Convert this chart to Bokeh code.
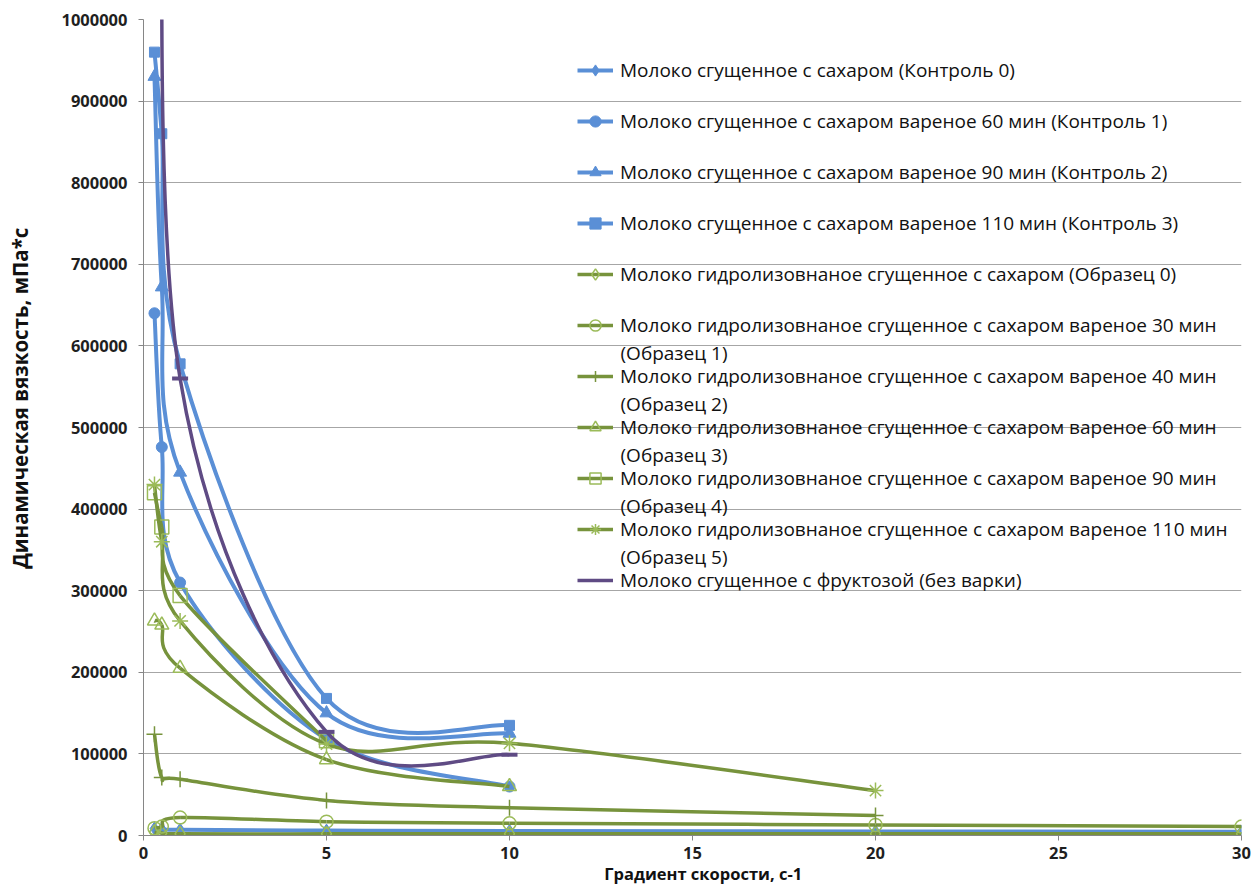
from bokeh.plotting import figure
from bokeh.models import (Legend, LegendItem, Label, FixedTicker, NumeralTickFormatter,
                          Range1d, ColumnDataSource)
from bokeh.embed import file_html
from bokeh.resources import INLINE

# ---------------- data ----------------
x_c0 = [0.3, 0.5, 1, 5, 10, 20, 30]
y_c0 = [8500, 8000, 7000, 6000, 5500, 5000, 4500]
x_c1 = [0.3, 0.5, 1, 5, 10]
y_c1 = [640000, 476000, 310000, 118000, 60000]
x_c2 = [0.3, 0.5, 1, 5, 10]
y_c2 = [930000, 672000, 445000, 150000, 125000]
x_c3 = [0.3, 0.5, 1, 5, 10]
y_c3 = [960000, 860000, 578000, 168000, 135000]
x_s0 = [0.3, 0.5, 1, 5, 10, 20, 30]
y_s0 = [4000, 3000, 2000, 2000, 2000, 2000, 2000]
x_s1 = [0.3, 0.5, 1, 5, 10, 20, 30]
y_s1 = [9000, 11000, 22000, 17000, 15000, 13000, 11000]
x_s2 = [0.3, 0.5, 1, 5, 10, 20]
y_s2 = [124000, 71000, 69000, 43000, 34000, 24500]
x_s3 = [0.3, 0.5, 1, 5, 10]
y_s3 = [263000, 258000, 205000, 93000, 60000]
x_s4 = [0.3, 0.5, 1, 5]
y_s4 = [420000, 378000, 294000, 116000]
x_s5 = [0.3, 0.5, 1, 5, 10, 20]
y_s5 = [430000, 360000, 263000, 112000, 113000, 55000]
x_fr = [0.5, 1, 5, 10]
y_fr = [1350000, 560000, 127000, 99000]

labels = [
    "Молоко сгущенное с сахаром (Контроль 0)",
    "Молоко сгущенное с сахаром вареное 60 мин (Контроль 1)",
    "Молоко сгущенное с сахаром вареное 90 мин (Контроль 2)",
    "Молоко сгущенное с сахаром вареное 110 мин (Контроль 3)",
    "Молоко гидролизовнаное сгущенное с сахаром (Образец 0)",
    "Молоко гидролизовнаное сгущенное с сахаром вареное 30 мин",
    "Молоко гидролизовнаное сгущенное с сахаром вареное 40 мин",
    "Молоко гидролизовнаное сгущенное с сахаром вареное 60 мин",
    "Молоко гидролизовнаное сгущенное с сахаром вареное 90 мин",
    "Молоко гидролизовнаное сгущенное с сахаром вареное 110 мин",
    "Молоко сгущенное с фруктозой (без варки)",
]
second_lines = {5: "(Образец 1)", 6: "(Образец 2)", 7: "(Образец 3)", 8: "(Образец 4)", 9: "(Образец 5)"}
x_title = "Градиент скорости, с-1"
y_title = "Динамическая вязкость, мПа*с"

x_ticks = [0, 5, 10, 15, 20, 25, 30]
y_ticks = [0, 100000, 200000, 300000, 400000, 500000, 600000, 700000, 800000, 900000, 1000000]

# ---------------- styles ----------------
BLUE = "#5A8FD6"
GREEN = "#77933C"
LGREEN = "#9BBB59"
PURPLE = "#5F4B84"
FONT = "Open Sans"
LEG_FS = "19px"
NB = "\u00a0"

W, H = 1253, 890
L, R, T, B = 143, 12, 19, 55
p = figure(width=W, height=H, output_backend="svg", toolbar_location=None,
           x_range=Range1d(0, 30), y_range=Range1d(0, 1000000),
           min_border_left=L, min_border_right=R, min_border_top=T, min_border_bottom=B)
p.outline_line_color = None
p.background_fill_color = "white"
p.xgrid.grid_line_color = None
p.ygrid.grid_line_color = "#A6A6A6"
p.ygrid.grid_line_width = 1

p.xaxis.ticker = FixedTicker(ticks=x_ticks)
p.yaxis.ticker = FixedTicker(ticks=y_ticks)
p.yaxis.formatter = NumeralTickFormatter(format="0")
for ax in (p.xaxis[0], p.yaxis[0]):
    ax.axis_line_color = "#868686"
    ax.major_tick_line_color = "#868686"
    ax.minor_tick_line_color = None
    ax.major_tick_in = 0
    ax.major_tick_out = 5
    ax.major_label_text_font = FONT
    ax.major_label_text_font_style = "bold"
    ax.major_label_text_font_size = "16.5px"
    ax.major_label_text_color = "#1F1F1F"
    ax.axis_label_text_font = FONT
    ax.axis_label_text_font_style = "bold"
    ax.axis_label_text_color = "#111111"
p.xaxis.major_label_standoff = 6
p.yaxis.major_label_standoff = 11
# leading no-break spaces shift the centred titles to the reference positions
p.xaxis.axis_label = NB * 5 + x_title
p.xaxis.axis_label_text_font_size = "16.5px"
p.xaxis.axis_label_standoff = 0
p.yaxis.axis_label = NB * 11 + y_title
p.yaxis.axis_label_text_font_size = "20.5px"
p.yaxis.axis_label_standoff = 24

W_FRAME = W - L - R
H_FRAME = H - T - B


def px_to_x(px):
    return (px - L) / W_FRAME * 30


def py_to_y(py):
    return (T + H_FRAME - py) / H_FRAME * 1000000


def smooth(xs, ys):
    """Excel-like smoothed line: cubic Bezier segments through the data points."""
    n = len(xs)
    d = dict(x0=[], y0=[], x1=[], y1=[], cx0=[], cy0=[], cx1=[], cy1=[])
    for i in range(n - 1):
        xa, ya = xs[i], ys[i]
        xb, yb = xs[i + 1], ys[i + 1]
        xp, yp = (xs[i - 1], ys[i - 1]) if i > 0 else (xa, ya)
        xn, yn = (xs[i + 2], ys[i + 2]) if i + 2 < n else (xb, yb)
        d["x0"].append(xa); d["y0"].append(ya)
        d["x1"].append(xb); d["y1"].append(yb)
        d["cx0"].append(xa + (xb - xp) / 6); d["cy0"].append(ya + (yb - yp) / 6)
        d["cx1"].append(xb - (xn - xa) / 6); d["cy1"].append(yb - (yn - ya) / 6)
    return ColumnDataSource(d)


series = [
    (x_c0, y_c0, BLUE, 4, dict(marker="diamond", size=13, fill_color=BLUE, line_color=BLUE)),
    (x_c1, y_c1, BLUE, 4, dict(marker="circle", size=11, fill_color=BLUE, line_color=BLUE)),
    (x_c2, y_c2, BLUE, 4, dict(marker="triangle", size=13, fill_color=BLUE, line_color=BLUE)),
    (x_c3, y_c3, BLUE, 4, dict(marker="square", size=10, fill_color=BLUE, line_color=BLUE)),
    (x_s0, y_s0, GREEN, 3.5, dict(marker="diamond", size=15, fill_color=None, line_color=LGREEN, line_width=1.5)),
    (x_s1, y_s1, GREEN, 3.5, dict(marker="circle", size=13, fill_color=None, line_color=LGREEN, line_width=1.5)),
    (x_s2, y_s2, GREEN, 3.5, dict(marker="cross", size=16, fill_color=None, line_color=GREEN, line_width=1.5)),
    (x_s3, y_s3, GREEN, 3.5, dict(marker="triangle", size=14, fill_color=None, line_color=LGREEN, line_width=1.5)),
    (x_s4, y_s4, GREEN, 3.5, dict(marker="square", size=14, fill_color=None, line_color=LGREEN, line_width=1.5)),
    (x_s5, y_s5, GREEN, 3.5, dict(marker="asterisk", size=16, fill_color=None, line_color=LGREEN, line_width=1.5)),
    (x_fr, y_fr, PURPLE, 3.5, dict(marker="dash", size=16, fill_color=None, line_color=PURPLE, line_width=4)),
]

items = []
for i, (xs, ys, col, lw, mk) in enumerate(series):
    src = smooth(xs, ys)
    r_line = p.bezier(x0="x0", y0="y0", x1="x1", y1="y1", cx0="cx0", cy0="cy0",
                      cx1="cx1", cy1="cy1", source=src, line_color=col, line_width=lw)
    r_pts = p.scatter(xs, ys, **mk)
    rends = [r_line] if i == 10 else [r_line, r_pts]
    items.append(LegendItem(label=labels[i], renderers=rends))

# legend geometry (pixels)
glyph_w, item_h, gap = 36, 28, 23
leg_left_px, leg_top_px = 577, 56
n_items = len(items)
leg_h = n_items * item_h + (n_items - 1) * gap
legend = Legend(items=items, location=(leg_left_px - L, H_FRAME - (leg_top_px - T) - leg_h),
                glyph_width=glyph_w, glyph_height=item_h, label_height=item_h,
                spacing=gap, padding=0, margin=0, label_standoff=7,
                border_line_color=None, background_fill_alpha=0,
                label_text_font=FONT, label_text_font_size=LEG_FS, label_text_color="#111111")
p.add_layout(legend, "center")

# second lines of the two-line legend entries
text_x = px_to_x(leg_left_px + glyph_w + 7)
for idx, txt in second_lines.items():
    cy = leg_top_px + item_h / 2 + idx * (item_h + gap) + 27
    p.add_layout(Label(x=text_x, y=py_to_y(cy), text=txt, text_baseline="middle",
                       text_align="left", text_font=FONT, text_font_size=LEG_FS,
                       text_color="#111111"))

open("out.html", "w").write(file_html(p, INLINE))
